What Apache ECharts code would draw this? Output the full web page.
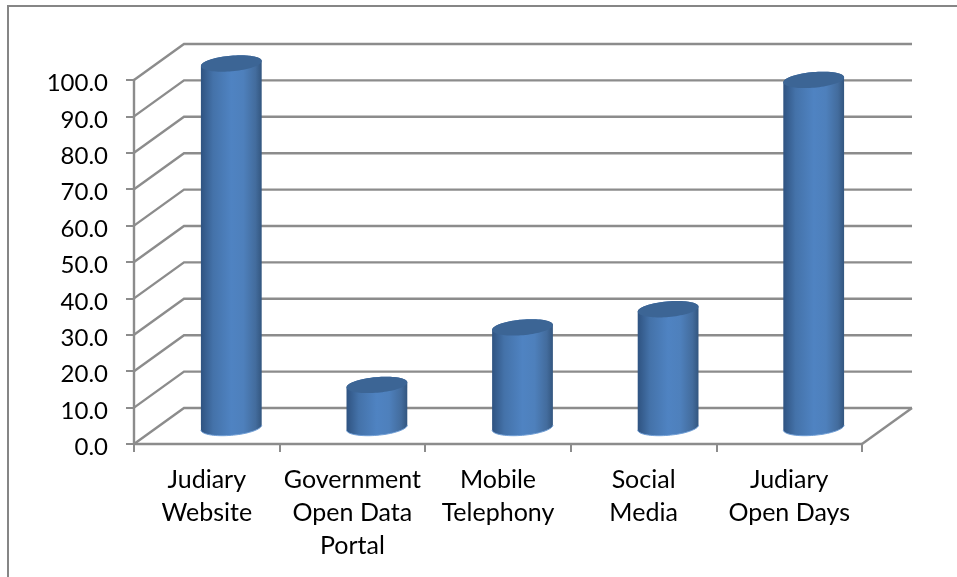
<!DOCTYPE html>
<html><head><meta charset="utf-8">
<style>html,body{margin:0;padding:0;background:#fff}#c{width:957px;height:577px}</style>
<script src="https://cdn.jsdelivr.net/npm/echarts@6/dist/echarts.min.js"></script>
</head><body><div id="c"></div>
<script>
const categories = ['Judiary\nWebsite', 'Government\nOpen Data\nPortal', 'Mobile\nTelephony', 'Social\nMedia', 'Judiary\nOpen Days'];
const values = [100, 11.7, 27.5, 32.5, 95.5];
const yTicks = [0, 10, 20, 30, 40, 50, 60, 70, 80, 90, 100];
const FONT = 'Lato, Carlito, Calibri, sans-serif';
const GREY = '#8c8c8c';
const DX = 50, DY = 36;

function ellipsePts(cx, cy, a, b, tilt, from, to, n) {
  const pts = [];
  const c = Math.cos(tilt), s = Math.sin(tilt);
  for (let i = 0; i <= n; i++) {
    const t = from + (to - from) * i / n;
    const ex = a * Math.cos(t), ey = b * Math.sin(t);
    pts.push([cx + ex * c - ey * s, cy + ex * s + ey * c]);
  }
  return pts;
}
const TILT = -5 * Math.PI / 180;

const chart = echarts.init(document.getElementById('c'), null, {renderer: 'canvas'});
chart.setOption({
  animation: false,
  backgroundColor: '#fff',
  graphic: [{
    type: 'polyline', silent: true, z: 0,
    shape: {points: [[8, 577], [8, 6], [957, 6]]},
    style: {stroke: '#868686', lineWidth: 2, fill: null}
  }],
  grid: {left: 134, right: 95, top: 80, bottom: 133, containLabel: false},
  xAxis: {
    type: 'category', data: categories,
    axisLine: {show: true, lineStyle: {color: GREY, width: 2.4}},
    axisTick: {show: true, length: 8, alignWithLabel: false, lineStyle: {color: GREY, width: 2}},
    axisLabel: {color: '#000', fontFamily: FONT, fontSize: 25, lineHeight: 33, margin: 19, interval: 0}
  },
  yAxis: {
    type: 'value', min: 0, max: 100, interval: 10,
    splitLine: {show: false},
    axisLine: {show: true, lineStyle: {color: GREY, width: 2.4}},
    axisTick: {show: true, length: 8, lineStyle: {color: GREY, width: 2}},
    axisLabel: {color: '#000', fontFamily: FONT, fontSize: 24, margin: 26, verticalAlign: 'top', lineHeight: 7, formatter: v => v.toFixed(1)}
  },
  series: [
    {
      type: 'custom', z: 1, silent: true, clip: false,
      data: yTicks.map(v => [v]),
      renderItem(params, api) {
        const p = api.coord([0, api.value(0)]);
        const g = params.coordSys;
        const y = p[1];
        const children = [{
          type: 'polyline',
          shape: {points: [[g.x, y], [g.x + DX, y - DY], [g.x + g.width + DX, y - DY]]},
          style: {stroke: GREY, lineWidth: 2.4, fill: null}
        }];
        if (api.value(0) === 0) {
          children.push({
            type: 'line',
            shape: {x1: g.x + g.width, y1: y, x2: g.x + g.width + DX, y2: y - DY},
            style: {stroke: GREY, lineWidth: 2.4}
          });
        }
        return {type: 'group', children};
      }
    },
    {
      type: 'custom', z: 3, silent: true, clip: false,
      data: values.map((v, i) => [i, v]),
      renderItem(params, api) {
        const i = api.value(0), v = api.value(1);
        const base = api.coord([i, 0]);
        const topP = api.coord([i, v]);
        const a = 30.5, b = 7.8;
        const cx = base[0] + DX / 2 - 0.5;
        const by = base[1] - DY / 2 + 1.5;
        const ty = topP[1] - DY / 2 + 1.5;
        const phi = Math.atan2(-b * Math.sin(TILT), a * Math.cos(TILT));
        const lowArc = ellipsePts(cx, by, a, b, TILT, Math.PI + phi, phi, 40);
        const topArc = ellipsePts(cx, ty, a, b, TILT, phi, -Math.PI + phi, 40);
        const topFull = ellipsePts(cx, ty, a, b, TILT, 0, Math.PI * 2, 80);
        return {type: 'group', children: [
          {type: 'polygon', shape: {points: lowArc.concat(topArc)},
            style: {fill: new echarts.graphic.LinearGradient(0, 0, 1, 0, [
              {offset: 0, color: '#2f5381'},
              {offset: 0.2, color: '#4472a9'},
              {offset: 0.5, color: '#4f83c2'},
              {offset: 0.7, color: '#4e80bc'},
              {offset: 0.9, color: '#436c9d'},
              {offset: 1, color: '#33567f'}
            ])}},
          {type: 'polyline', shape: {points: lowArc},
            style: {stroke: '#6f9ed6', lineWidth: 1, fill: null}},
          {type: 'polygon', shape: {points: topFull},
            style: {fill: '#3c6595'}}
        ]};
      }
    }
  ]
});
</script></body></html>
